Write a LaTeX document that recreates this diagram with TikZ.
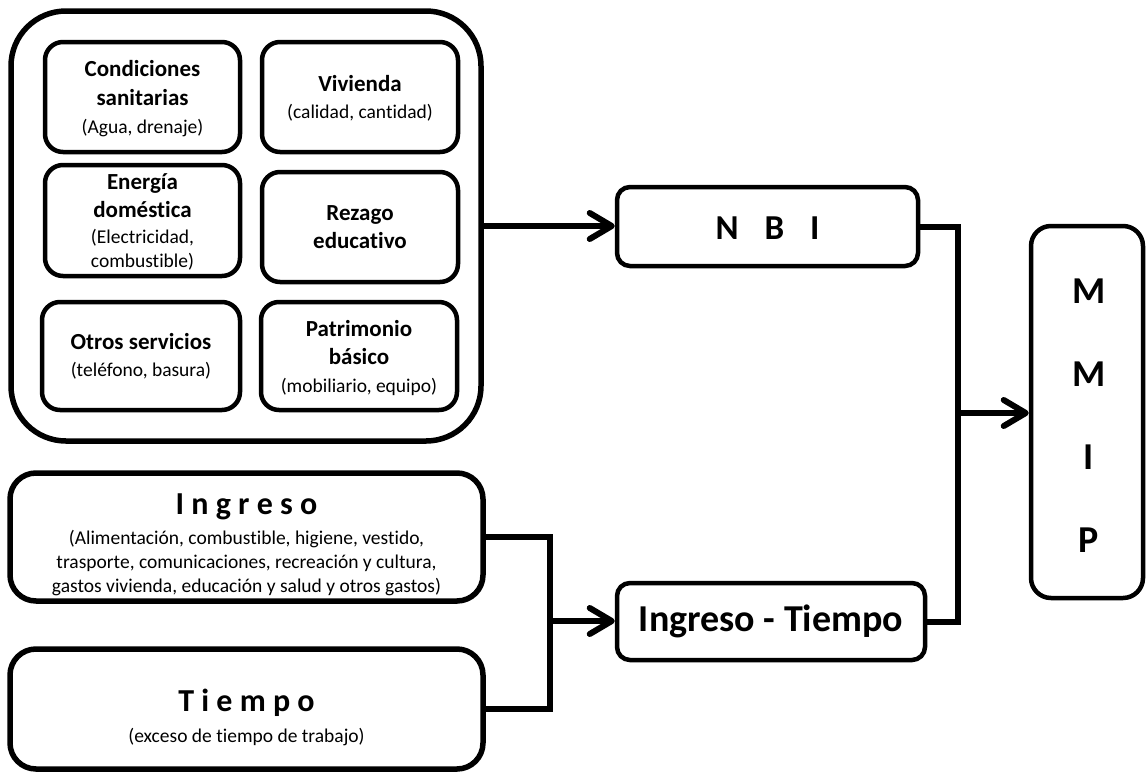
\documentclass[tikz,border=0pt]{standalone}
\usepackage{fontspec}
\setmainfont{Carlito}[Ligatures={NoCommon}]
\usetikzlibrary{arrows.meta}
\newcommand\tb{\fontsize{23}{28}\selectfont\bfseries}
\newcommand\ts{\fontsize{19.5}{24}\selectfont}
\begin{document}
\begin{tikzpicture}[x=1pt,y=-1pt,
  box/.style={draw, rectangle, rounded corners=#1, inner sep=0pt, fill=white},
  ibox/.style={box=18pt, line width=4.5pt},
  txt/.style={align=center, inner sep=0pt, font=\ts},
  conn/.style={line width=6pt},
  arr/.style={conn, -{Straight Barb[length=22pt,width=26pt,round]}}]
\fill[white] (0,0) rectangle (1146,772);
\useasboundingbox (0,0) rectangle (1146,772);

% big group box
\node[box=55pt, line width=5.5pt, minimum width=470pt, minimum height=430pt] (big) at (246,226) {};
\node[ibox, minimum width=195pt, minimum height=110pt] (cond) at (142.5,97) {};
\node[ibox, minimum width=196pt, minimum height=110pt] (viv) at (360,97) {};
\node[ibox, minimum width=195pt, minimum height=111pt] (ener) at (142.5,220.5) {};
\node[ibox, minimum width=196pt, minimum height=110pt] (rez) at (360,227) {};
\node[ibox, minimum width=198pt, minimum height=108pt] (otros) at (141,356) {};
\node[ibox, minimum width=196pt, minimum height=108pt] (patr) at (359,356) {};

\node[txt] (condT) at (142.5,98.5) {{\tb Condiciones}\\[5pt]{\tb sanitarias}\\[4pt](Agua, drenaje)};
\node[txt] (vivT) at (360,98.5) {{\tb Vivienda}\\[3pt](calidad, cantidad)};
\node[txt] (enerT) at (142.5,222) {{\tb Energía}\\[4pt]{\tb doméstica}\\[2pt](Electricidad,\\combustible)};
\node[txt] (rezT) at (360,227.5) {{\tb Rezago}\\[4pt]{\tb educativo}};
\node[txt] (otrosT) at (141,356.5) {{\tb Otros servicios}\\[3pt](teléfono, basura)};
\node[txt] (patrT) at (359,358) {{\tb Patrimonio}\\[4pt]{\tb básico}\\[4pt](mobiliario, equipo)};

% Ingreso / Tiempo boxes
\node[box=26pt, line width=5.5pt, minimum width=473pt, minimum height=128pt] (ingreso) at (246.5,537) {};
\node[box=26pt, line width=5.5pt, minimum width=473pt, minimum height=120pt] (tiempo) at (246.5,709) {};
\node[txt] (ingresoT) at (246.5,545) {{\fontsize{32}{38}\selectfont\bfseries I n g r e s o}\\[6pt](Alimentación, combustible, higiene, vestido,\\trasporte, comunicaciones, recreación y cultura,\\gastos vivienda, educación y salud y otros gastos)};
\node[txt] (tiempoT) at (246.5,717) {{\fontsize{32}{38}\selectfont\bfseries T i e m p o}\\[7pt](exceso de tiempo de trabajo)};

% NBI, Ingreso - Tiempo, MMIP
\node[box=13pt, line width=4.5pt, minimum width=301pt, minimum height=79pt] (nbi) at (767.5,226.5) {};
\node[txt, font=\fontsize{35}{40}\selectfont\bfseries] (nbiT) at (767.5,228) {N\hspace{26pt}B\hspace{26pt}I};
\node[box=13pt, line width=4.5pt, minimum width=308pt, minimum height=77pt, font=\fontsize{38}{44}\selectfont\bfseries] (it) at (771,621.5) {Ingreso - Tiempo};
\node[box=20pt, line width=4.5pt, minimum width=112pt, minimum height=372pt] (mmip) at (1087,412) {};
\node[txt, font=\fontsize{38}{83}\selectfont\bfseries] (mmipT) at (1089,416) {M\\M\\I\\P};

% connectors
\coordinate (j1) at (958,413);
\coordinate (j2) at (550,621);
\draw[arr] (big.east) -- (big.east -| nbi.west);
\draw[conn] (nbi.east) -| (j1);
\draw[conn] (it.east) -| (j1);
\draw[arr] (j1) -- (j1 -| mmip.west);
\draw[conn] (ingreso.east) -| (j2);
\draw[conn] (tiempo.east) -| (j2);
\draw[arr] (j2) -- (j2 -| it.west);
\end{tikzpicture}
\end{document}
